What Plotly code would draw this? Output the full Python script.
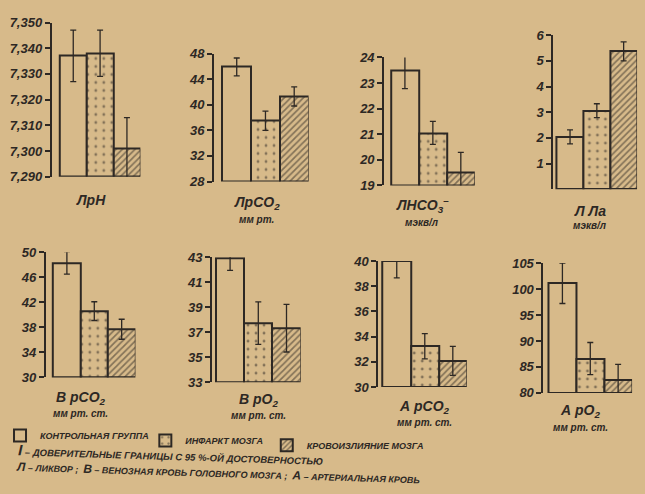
import plotly.graph_objects as go

# ---- data -------------------------------------------------------------
groups = ["КОНТРОЛЬНАЯ ГРУППА", "ИНФАРКТ МОЗГА", "КРОВОИЗЛИЯНИЕ МОЗГА"]

# mean values per group (control, infarction, haemorrhage) and 95% CI half-widths
liq_ph = [7.337, 7.338, 7.301]
liq_ph_ci = [0.010, 0.009, 0.012]
liq_pco2 = [45.9, 37.5, 41.3]
liq_pco2_ci = [1.4, 1.5, 1.5]
liq_hco3 = [23.48, 21.05, 19.49]
liq_hco3_ci = [0.70, 0.45, 0.80]
liq_lac = [2.04, 3.06, 5.37]
liq_lac_ci = [0.27, 0.27, 0.37]
ven_pco2 = [48.3, 40.6, 37.7]
ven_pco2_ci = [1.8, 1.5, 1.6]
ven_po2 = [42.95, 37.73, 37.32]
ven_po2_ci = [1.0, 1.7, 1.9]
art_pco2 = [39.97, 33.24, 32.08]
art_pco2_ci = [1.3, 1.0, 1.15]
art_po2 = [101.1, 86.6, 82.5]
art_po2_ci = [3.9, 3.1, 3.0]

# tick values and their printed labels
ph_ticks = [7.29, 7.30, 7.31, 7.32, 7.33, 7.34, 7.35]
ph_ticktext = ["7,290", "7,300", "7,310", "7,320", "7,330", "7,340", "7,350"]
pco2_l_ticks = [28, 32, 36, 40, 44, 48]
hco3_ticks = [19, 20, 21, 22, 23, 24]
lac_ticks = [1, 2, 3, 4, 5, 6]
pco2_v_ticks = [30, 34, 38, 42, 46, 50]
po2_v_ticks = [33, 35, 37, 39, 41, 43]
pco2_a_ticks = [30, 32, 34, 36, 38, 40]
po2_a_ticks = [80, 85, 90, 95, 100, 105]

panel_titles = [
    ("ЛрН", ""),
    ("ЛрСО<sub>2</sub>", "мм рт."),
    ("ЛНСО<sub>3</sub><sup>–</sup>", "мэкв/л"),
    ("Л Ла", "мэкв/л"),
    ("В рСО<sub>2</sub>", "мм рт. ст."),
    ("В рО<sub>2</sub>", "мм рт. ст."),
    ("А рСО<sub>2</sub>", "мм рт. ст."),
    ("А рО<sub>2</sub>", "мм рт. ст."),
]

panels = [
    (liq_ph, liq_ph_ci, ph_ticks, ph_ticktext, 7.29, 7.35),
    (liq_pco2, liq_pco2_ci, pco2_l_ticks, None, 28, 48),
    (liq_hco3, liq_hco3_ci, hco3_ticks, None, 19, 24),
    (liq_lac, liq_lac_ci, lac_ticks, None, 0, 6),
    (ven_pco2, ven_pco2_ci, pco2_v_ticks, None, 30, 50),
    (ven_po2, ven_po2_ci, po2_v_ticks, None, 33, 43),
    (art_pco2, art_pco2_ci, pco2_a_ticks, None, 30, 40),
    (art_po2, art_po2_ci, po2_a_ticks, None, 80, 105),
]

# ---- layout geometry (pixels in a 645 x 494 page) ---------------------
W, H = 645, 494
# axis-line x, right edge, top-tick y, bottom-tick y, gap before first bar (bar widths)
frames = [
    (49, 138, 16, 175, 0.30),
    (212, 307, 48, 180, 0.29),
    (383, 474, 52, 184, 0.24),
    (553, 637, 29, 188, 0.12),
    (43, 133, 253, 382, 0.27),
    (210, 299, 258, 387, 0.14),
    (377, 466, 262, 392, 0.16),
    (543, 632, 264, 398, 0.18),
]
# label centres: (x, y of main label, y of unit line)
label_pos = [
    (88, 199, None),
    (255, 202, 219),
    (421, 204, 222),
    (590, 210, 225),
    (78, 403, 419),
    (257, 405, 421),
    (423, 413, 429),
    (580, 417, 434),
]

BG = "rgb(215,186,138)"
INK = "rgb(45,40,36)"
FONT = "Liberation Sans, Arial, sans-serif"

patterns = [
    dict(shape="", fgcolor=INK, bgcolor=BG),
    dict(shape=".", fgcolor=INK, bgcolor=BG, size=8, solidity=0.1),
    dict(shape="/", fgcolor=INK, bgcolor=BG, size=4.5, solidity=0.38),
]
legend_ids = ["legend", "legend2", "legend3"]

fig = go.Figure()
layout = {}
for k, (vals, ci, tv, tt, lo, hi) in enumerate(panels):
    n = "" if k == 0 else str(k + 1)
    ax_x, right, top, bottom, gap = frames[k]
    for g in range(3):
        fig.add_trace(go.Bar(
            x=[g], y=[vals[g] - lo], base=lo, width=1,
            name=groups[g],
            xaxis="x" + n, yaxis="y" + n,
            marker=dict(color=BG, line=dict(color=INK, width=2), pattern=patterns[g]),
            error_y=dict(type="data", array=[ci[g]], color=INK, thickness=1.3, width=3),
            cliponaxis=False,
            showlegend=(k == 0),
            legend=legend_ids[g],
            hoverinfo="skip",
        ))
    layout["xaxis" + n] = dict(
        domain=[ax_x / W, right / W], range=[-0.5 - gap, 2.5],
        visible=False, anchor="y" + n, fixedrange=True,
    )
    ydict = dict(
        domain=[1 - bottom / H, 1 - top / H], range=[lo, hi], anchor="x" + n,
        showline=True, linecolor=INK, linewidth=2,
        ticks="outside", ticklen=5, tickwidth=1.5, tickcolor=INK,
        tickvals=tv, showgrid=False, zeroline=False,
        tickfont=dict(family=FONT, size=13, color=INK, weight="bold", style="italic"),
    )
    if tt is not None:
        ydict["ticktext"] = tt
    layout["yaxis" + n] = ydict

annotations = []
for k, (main, unit) in enumerate(panel_titles):
    lx, ly, uy = label_pos[k]
    annotations.append(dict(
        text=main, x=lx / W, y=1 - ly / H, xref="paper", yref="paper",
        showarrow=False, xanchor="center", yanchor="middle",
        font=dict(family=FONT, size=14, color=INK, weight="bold", style="italic"),
    ))
    if unit:
        annotations.append(dict(
            text=unit, x=lx / W, y=1 - uy / H, xref="paper", yref="paper",
            showarrow=False, xanchor="center", yanchor="middle",
            font=dict(family=FONT, size=10, color=INK, weight="bold", style="italic"),
        ))

# notes under the legend
annotations.append(dict(
    text="<span style='font-size:15px'>I</span> – ДОВЕРИТЕЛЬНЫЕ ГРАНИЦЫ С 95 %-ОЙ ДОСТОВЕРНОСТЬЮ",
    x=168 / W, y=1 - 462 / H, xref="paper", yref="paper", showarrow=False,
    xanchor="center", yanchor="middle", textangle=1.8,
    font=dict(family=FONT, size=9.5, color=INK, weight="bold", style="italic"),
))
annotations.append(dict(
    text="<span style='font-size:12px'>Л</span> – ЛИКВОР ;  <span style='font-size:12px'>В</span> – ВЕНОЗНАЯ КРОВЬ ГОЛОВНОГО МОЗГА ;  <span style='font-size:12px'>А</span> – АРТЕРИАЛЬНАЯ КРОВЬ",
    x=216 / W, y=1 - 481 / H, xref="paper", yref="paper", showarrow=False,
    xanchor="center", yanchor="middle", textangle=1.8,
    font=dict(family=FONT, size=9, color=INK, weight="bold", style="italic"),
))

legend_font = dict(family=FONT, size=9, color=INK, weight="bold", style="italic")
legend_pos = [(-3, 442), (143, 447), (265, 452)]
for lid, (lx, ly) in zip(legend_ids, legend_pos):
    layout[lid] = dict(
        x=lx / W, y=1 - ly / H, xanchor="left", yanchor="middle",
        orientation="h", bgcolor="rgba(0,0,0,0)", font=legend_font,
        itemclick=False, itemdoubleclick=False,
    )

fig.update_layout(
    width=W, height=H,
    margin=dict(l=0, r=0, t=0, b=0),
    paper_bgcolor=BG, plot_bgcolor=BG,
    barmode="overlay", bargap=0,
    annotations=annotations,
    **layout,
)

fig.write_html("out.html", config={"displayModeBar": False})
